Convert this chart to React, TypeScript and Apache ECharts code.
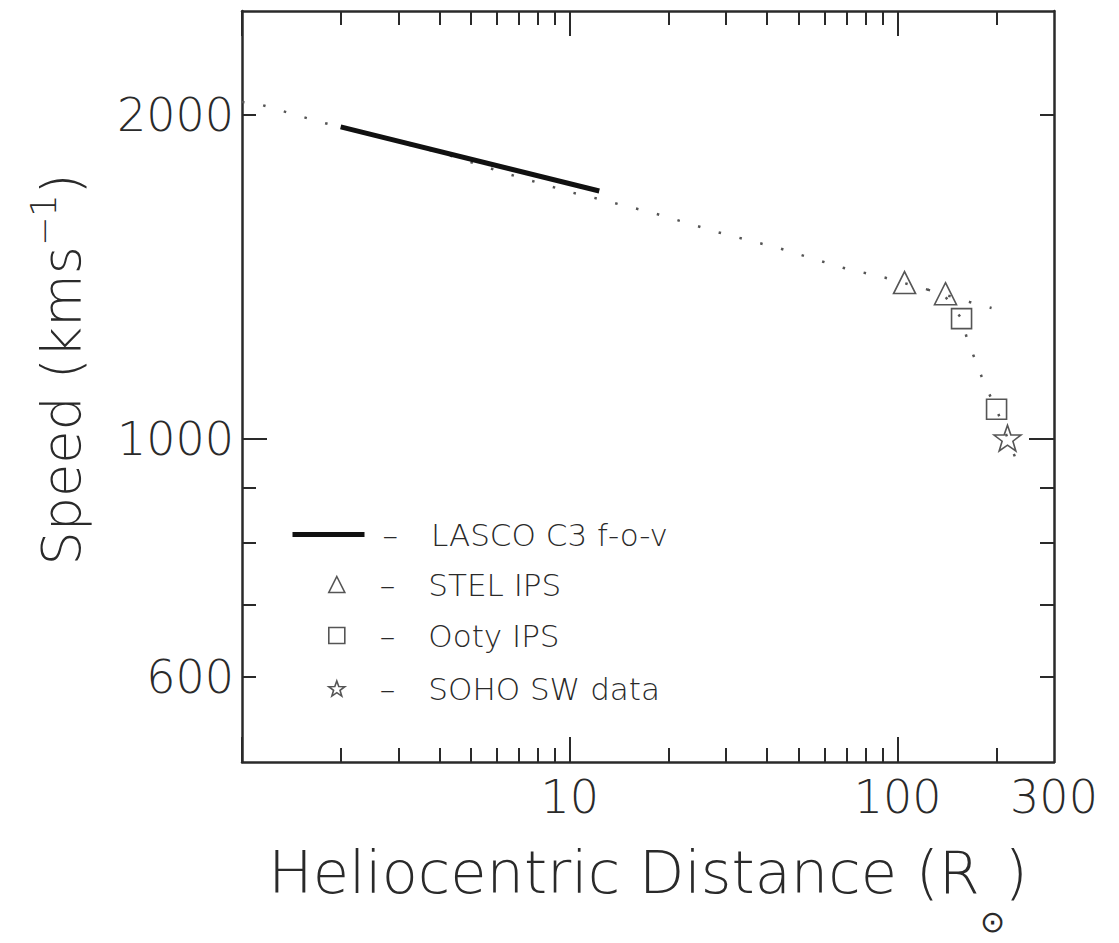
import React, { useEffect, useRef } from "react";
import * as echarts from "echarts";

const FONT = "DejaVu Sans";
const WEIGHT = 200;
const INK = "#2a2a2a";

// axis ranges and ticks (data units)
const xRange = [1, 300];
const yRange = [500, 2500];
const xMajorTicks = [1, 10, 100];
const xMinorTicks = [2, 3, 4, 5, 6, 7, 8, 9, 20, 30, 40, 50, 60, 70, 80, 90, 200];
const xTickLabels = [10, 100, 300];
const yMajorTicks = [1000];
const yMinorTicks = [600, 700, 800, 900, 2000];
const yTickLabels = [600, 1000, 2000];

// LASCO C3 field-of-view speed (solid line)
const lascoDistance = [2, 12.3];
const lascoSpeed = [1950, 1700];

// dotted fit curve
const fitDistance = [1, 1.1, 1.7, 4.2, 6.4, 10.1, 11.7, 18.2, 28.3, 43.7, 68, 91.3, 123.5, 140, 156.7, 163.5, 174, 184, 200.4, 216.4, 235.5];
const fitSpeed = [2057, 2052, 1974, 1839, 1765, 1695, 1677, 1620, 1556, 1503, 1442, 1412, 1376, 1355, 1293, 1233, 1176, 1124, 1065, 1001, 938];
const fitUpperDistance = [123.5, 165.8, 193.5];
const fitUpperSpeed = [1376, 1340, 1323];

// observations
const stelDistance = [105, 140];
const stelSpeed = [1397, 1364];
const ootyDistance = [156.7, 200.4];
const ootySpeed = [1293, 1065];
const sohoDistance = [216.4];
const sohoSpeed = [1001];

const STAR =
  "path://M50 0 L61.76 33.82 L97.55 34.55 L69.02 56.18 L79.39 90.45 L50 70 L20.61 90.45 L30.98 56.18 L2.45 34.55 L38.24 33.82 Z";

const L = (v: number) => Math.log10(v);
const pairs = (xs: number[], ys: number[]) => xs.map((x, i) => [L(x), L(ys[i])]);
const fmt = (v: number) => String(Math.round(Math.pow(10, v)));

const tickLabel = {
  fontSize: 46,
  fontFamily: FONT,
  fontWeight: WEIGHT,
  color: INK,
};

function xAxisDef(position: string, ticks: number[], len: number, labels: number[] | null, showLine: boolean, extra: any = {}) {
  return {
    type: "value",
    gridIndex: 0,
    position,
    min: L(xRange[0]),
    max: L(xRange[1]),
    axisLine: { show: showLine, onZero: false, lineStyle: { color: INK, width: 2.5 } },
    axisTick: { show: true, inside: true, length: len, customValues: ticks.map(L), lineStyle: { color: INK, width: 2 } },
    axisLabel: labels
      ? { show: true, customValues: labels.map(L), formatter: fmt, margin: 12, ...tickLabel }
      : { show: false },
    splitLine: { show: false },
    ...extra,
  };
}

function yAxisDef(position: string, ticks: number[], len: number, labels: number[] | null, showLine: boolean, extra: any = {}) {
  return {
    type: "value",
    gridIndex: 0,
    position,
    min: L(yRange[0]),
    max: L(yRange[1]),
    axisLine: { show: showLine, onZero: false, lineStyle: { color: INK, width: 2.5 } },
    axisTick: { show: true, inside: true, length: len, customValues: ticks.map(L), lineStyle: { color: INK, width: 2 } },
    axisLabel: labels
      ? { show: true, customValues: labels.map(L), formatter: fmt, margin: 8, ...tickLabel }
      : { show: false },
    splitLine: { show: false },
    ...extra,
  };
}

const emptyMarker = { color: "rgba(255,255,255,0)", borderColor: INK, borderWidth: 1.6 };

const LEG_FS = 31;
const legendRich = (padLeft: number) => ({
  d: { fontFamily: FONT, fontWeight: WEIGHT, fontSize: LEG_FS, lineHeight: 36, color: INK, padding: [0, 33, 0, padLeft] },
  t: { fontFamily: FONT, fontWeight: WEIGHT, fontSize: LEG_FS, lineHeight: 36, color: INK },
});

function legendDef(name: string, left: number, centerY: number, w: number, h: number, padLeft: number, item: any) {
  return {
    show: true,
    orient: "horizontal",
    left,
    top: centerY - 18,
    padding: 0,
    itemWidth: w,
    itemHeight: h,
    selectedMode: false,
    data: [{ name, ...item }],
    formatter: (n: string) => `{d|–}{t|${n}}`,
    textStyle: { fontFamily: FONT, fontWeight: WEIGHT, fontSize: LEG_FS, color: INK, rich: legendRich(padLeft) },
  };
}

const option: any = {
  animation: false,
  backgroundColor: "#ffffff",
  grid: { left: 242, right: 65, top: 11, bottom: 181, containLabel: false },
  xAxis: [
    xAxisDef("bottom", xMajorTicks, 25, xTickLabels, true, {
      name: "{a|Heliocentric Distance (R}{s|⊙}{a|)}",
      nameLocation: "middle",
      nameGap: 81,
      nameTextStyle: {
        fontFamily: FONT,
        fontWeight: WEIGHT,
        fontSize: 59,
        color: INK,
        rich: {
          a: { fontFamily: FONT, fontWeight: WEIGHT, fontSize: 59, lineHeight: 67, verticalAlign: "top", color: INK },
          s: { fontFamily: FONT, fontWeight: WEIGHT, fontSize: 30, lineHeight: 30, verticalAlign: "top", padding: [63, 0, 0, 0], color: INK },
        },
      },
    }),
    xAxisDef("bottom", xMinorTicks, 14, null, false),
    xAxisDef("top", xMajorTicks, 25, null, true),
    xAxisDef("top", xMinorTicks, 14, null, false),
  ],
  yAxis: [
    yAxisDef("left", yMajorTicks, 25, yTickLabels, true, {
      name: "{a0|Speed (kms}{s|−1}{a|)}",
      nameLocation: "middle",
      nameRotate: 90,
      nameGap: 146,
      nameTextStyle: {
        fontFamily: FONT,
        fontWeight: WEIGHT,
        fontSize: 54,
        color: INK,
        rich: {
          a0: { fontFamily: FONT, fontWeight: WEIGHT, fontSize: 54, lineHeight: 62, verticalAlign: "bottom", padding: [0, 0, 0, 34], color: INK },
          s: { fontFamily: FONT, fontWeight: WEIGHT, fontSize: 35, lineHeight: 35, verticalAlign: "top", padding: [0, 0, 45, 0], color: INK },
          a: { fontFamily: FONT, fontWeight: WEIGHT, fontSize: 54, lineHeight: 62, verticalAlign: "bottom", color: INK },
        },
      },
    }),
    yAxisDef("left", yMinorTicks, 14, null, false),
    yAxisDef("right", yMajorTicks, 25, null, true),
    yAxisDef("right", yMinorTicks, 14, null, false),
  ],
  legend: [
    legendDef("LASCO C3 f-o-v", 290, 537, 72, 14, 13, {
      icon: "inherit",
      lineStyle: { width: 5, color: "#111", opacity: 1 },
      itemStyle: { color: "rgba(255,255,255,0)", borderWidth: 0, opacity: 0 },
    }),
    legendDef("STEL IPS", 328, 587, 16, 16, 30, { icon: "triangle", itemStyle: emptyMarker }),
    legendDef("Ooty IPS", 328, 638, 16, 16, 30, { icon: "rect", itemStyle: emptyMarker }),
    legendDef("SOHO SW data", 328, 691, 16, 16, 30, { icon: STAR, itemStyle: emptyMarker }),
  ],
  series: [
    {
      name: "fit",
      type: "line",
      data: pairs(fitDistance, fitSpeed),
      symbol: "none",
      silent: true,
      lineStyle: { color: "#555", width: 2.5, type: [2.5, 19] },
      z: 1,
    },
    {
      name: "fitUpper",
      type: "line",
      data: pairs(fitUpperDistance, fitUpperSpeed),
      symbol: "none",
      silent: true,
      lineStyle: { color: "#555", width: 2.5, type: [2.5, 19] },
      z: 1,
    },
    {
      name: "LASCO C3 f-o-v",
      type: "line",
      data: pairs(lascoDistance, lascoSpeed),
      symbol: "none",
      showSymbol: false,
      lineStyle: { color: "#111", width: 5 },
      itemStyle: { color: "#111" },
      z: 3,
    },
    {
      name: "STEL IPS",
      type: "scatter",
      symbol: "triangle",
      symbolSize: 22,
      data: pairs(stelDistance, stelSpeed),
      itemStyle: emptyMarker,
      z: 4,
    },
    {
      name: "Ooty IPS",
      type: "scatter",
      symbol: "rect",
      symbolSize: 20,
      data: pairs(ootyDistance, ootySpeed),
      itemStyle: emptyMarker,
      z: 4,
    },
    {
      name: "SOHO SW data",
      type: "scatter",
      symbol: STAR,
      symbolKeepAspect: true,
      symbolSize: 27,
      data: pairs(sohoDistance, sohoSpeed),
      itemStyle: emptyMarker,
      z: 4,
    },
  ],
};

export default function App() {
  const ref = useRef<HTMLDivElement>(null);
  useEffect(() => {
    const chart = echarts.init(ref.current as HTMLDivElement, undefined, { renderer: "svg" });
    chart.setOption(option);
    return () => chart.dispose();
  }, []);
  return (
    <div
      ref={ref}
      style={{ position: "fixed", left: 0, top: 0, width: 1119, height: 943, background: "#fff" }}
    />
  );
}
